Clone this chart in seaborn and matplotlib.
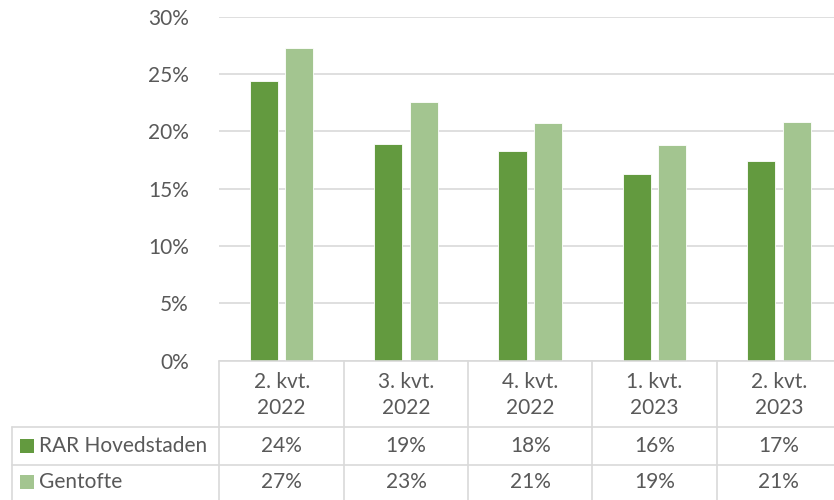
import matplotlib
matplotlib.use("Agg")
import matplotlib.pyplot as plt
from matplotlib.lines import Line2D
from matplotlib.patches import Rectangle
import pandas as pd
import seaborn as sns

# Data (percent)
quarters = ["2. kvt.\n2022", "3. kvt.\n2022", "4. kvt.\n2022", "1. kvt.\n2023", "2. kvt.\n2023"]
rar_hovedstaden = [24.4, 18.9, 18.3, 16.3, 17.4]
gentofte = [27.3, 22.6, 20.7, 18.8, 20.8]
series_names = ["RAR Hovedstaden", "Gentofte"]
y_ticks = [0, 5, 10, 15, 20, 25, 30]

colors = ["#639A3F", "#A3C590"]
grid_color = "#D9D9D9"
text_color = "#595959"

df = pd.DataFrame({
    "quarter": quarters * 2,
    "series": [series_names[0]] * len(quarters) + [series_names[1]] * len(quarters),
    "value": rar_hovedstaden + gentofte,
})

sns.set_style("white")
plt.rcParams["font.family"] = ["Lato", "DejaVu Sans"]
fs = 15

W, H = 834, 500
fig = plt.figure(figsize=(W / 100, H / 100), dpi=100)


def fx(px):
    return px / W


def fy(py):
    return 1 - py / H


# plot area (pixel geometry of the reference)
left_px, right_px = 219.5, 841.0
top_px, bottom_px = 16.8, 360.8
ax = fig.add_axes([fx(left_px), fy(bottom_px), fx(right_px) - fx(left_px), fy(top_px) - fy(bottom_px)])

sns.barplot(data=df, x="quarter", y="value", hue="series", palette=colors,
            saturation=1, width=0.572, gap=0.21, edgecolor="white", linewidth=0.6,
            legend=False, ax=ax)

ax.set_ylim(0, 30)
ax.set_xlim(-0.5, len(quarters) - 0.5)
ax.set_yticks(y_ticks)
ax.set_yticklabels([f"{t}%" for t in y_ticks], fontsize=fs, color=text_color)
ax.tick_params(axis="y", length=0, pad=22)
ax.set_xticks([])
ax.set_xlabel("")
ax.set_ylabel("")
ax.yaxis.grid(True, color=grid_color, linewidth=1.2)
ax.set_axisbelow(True)
for s in ax.spines.values():
    s.set_visible(False)

# data table below the plot
col_w = (right_px - left_px) / len(quarters)
table_left = 11.7
row_lines = [360.8, 427.3, 465.3, 503.0]
lw = 1.2


def hline(y, x0, x1):
    fig.add_artist(Line2D([fx(x0), fx(x1)], [fy(y), fy(y)], color=grid_color, linewidth=lw))


def vline(x, y0, y1):
    fig.add_artist(Line2D([fx(x), fx(x)], [fy(y0), fy(y1)], color=grid_color, linewidth=lw))


hline(row_lines[0], left_px, right_px)
for y in row_lines[1:]:
    hline(y, table_left, right_px)
vline(table_left, row_lines[1], row_lines[3])
for i in range(len(quarters) + 1):
    vline(left_px + i * col_w, row_lines[0], row_lines[3])

# header
for i, q in enumerate(quarters):
    cx = left_px + (i + 0.5) * col_w
    fig.text(fx(cx), fy((row_lines[0] + row_lines[1]) / 2 + 1), q, ha="center", va="center",
             fontsize=fs, color=text_color, linespacing=1.4)

# rows
for r, (name, vals) in enumerate(zip(series_names, [rar_hovedstaden, gentofte])):
    cy = (row_lines[r + 1] + row_lines[r + 2]) / 2 - (2 if r == 1 else 0)
    fig.add_artist(Rectangle((fx(19.5), fy(cy + 7)), fx(14), fy(0) - fy(14),
                             facecolor=colors[r], edgecolor="none"))
    fig.text(fx(39), fy(cy), name, ha="left", va="center", fontsize=fs, color=text_color)
    for i, v in enumerate(vals):
        cx = left_px + (i + 0.5) * col_w
        fig.text(fx(cx), fy(cy), f"{round(v):.0f}%", ha="center", va="center",
                 fontsize=fs, color=text_color)

fig.savefig("out.png", dpi=100)
